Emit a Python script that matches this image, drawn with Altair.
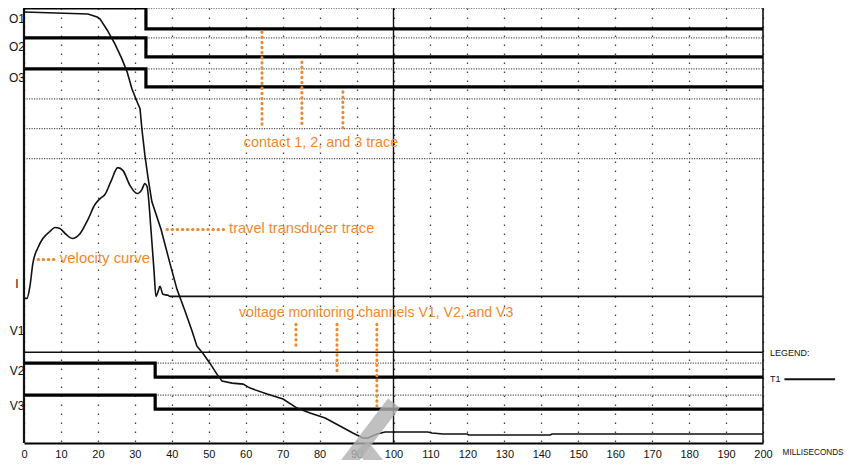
import altair as alt
import pandas as pd

# x: milliseconds ; y: trace level (0 = bottom edge of the record, 436 = top edge)
X_MIN, X_MAX = 0, 200
Y_MIN, Y_MAX = 0, 436

# ---- channel labels at the left edge
channel_labels = ["O1", "O2", "O3", "I", "V1", "V2", "V3"]
channel_label_y = [425, 397, 366, 159, 112, 72, 37]

# ---- contact traces (step down when the contacts part)
contact_names = ["O1", "O2", "O3"]
contact_high = [436, 406, 375]
contact_low = [415, 387, 357]
contact_switch_ms = [33.0, 33.0, 33.0]

# ---- voltage monitoring channels
voltage_names = ["V2", "V3"]
voltage_high = [80, 48]
voltage_low = [66, 34]
voltage_switch_ms = [35.5, 35.5]
v1_level = 91

# ---- dotted reference levels: start ms, level
dotted_start = [33.0, 33.0, 33.0, 0, 0, 0, 35.5, 35.5]
dotted_level = [436, 406, 375, 345, 315, 285, 80, 48]

# ---- travel transducer trace
travel_ms = [0, 17.3, 19.8, 20.6, 22.5, 24.6, 26.5, 27.9, 29.2, 30.6, 31.4, 31.9,
             32.7, 33.6, 34.6, 37.1, 39.5, 41.4, 43.6, 45.5, 46.8, 48.4, 50.3,
             52.2, 53.6, 56.3, 59.3, 61.2, 65.8, 70.1, 73.9, 77.4, 81.5, 85.5,
             89.0, 91.7, 93.1, 95.5, 97.7, 109.3, 110.4, 113.4, 119.9, 120.4,
             142.4, 142.9, 200]
travel_val = [432, 430, 427, 425, 414, 400, 385, 372, 355, 342, 335, 315,
              289, 265, 242, 214, 180, 154, 132, 112, 97, 90, 80,
              69, 62, 60, 59, 55, 49, 44, 35, 30, 25, 17,
              10, 5, 5, 9, 11, 11, 10, 9, 9, 8,
              8, 9, 9]

# ---- velocity curve (continues as the I trace)
velocity_ms = [0, 0.8, 1.6, 2.4, 3.8, 5.1, 7.0, 8.4, 9.7, 11.4, 13.0, 15.2, 17.3,
               19.2, 20.6, 21.9, 23.5, 25.4, 26.8, 28.7, 30.6, 31.9, 32.7, 33.3,
               34.4, 35.2, 35.7, 36.3, 36.8, 37.6, 39.0, 39.5, 200]
velocity_val = [145, 145, 157, 180, 196, 205, 212, 216, 215, 209, 205, 210, 224,
                239, 245, 249, 262, 276, 273, 258, 250, 254, 260, 257,
                212, 172, 147, 152, 157, 149, 148, 147, 147]

# ---- annotations (orange)
note_text = ["contact 1, 2, and 3 trace", "travel transducer trace",
             "velocity curve", "voltage monitoring channels V1, V2, and V3"]
note_x = [59.5, 55.5, 9.7, 58.2]
note_y = [301, 214, 184, 130]
note_size = [14.4, 14.6, 14.9, 14.1]

# orange dotted leaders: x1, y1, x2, y2
lead_x1 = [64.4, 75.2, 86.3, 38.7, 3.8, 73.6, 84.7, 95.5]
lead_y1 = [412, 382, 352, 214, 184, 119, 119, 119]
lead_x2 = [64.4, 75.2, 86.3, 54.4, 9.2, 73.6, 84.7, 95.5]
lead_y2 = [316, 316, 316, 214, 184, 96, 70, 37]

# ---- watermark bands (scanned background)
wm_x1 = [100.1, 91.5]
wm_y1 = [40, -3]
wm_x2 = [86.1, 96.9]
wm_y2 = [-28, -28]

# ---- axis ticks
x_ticks = list(range(0, 201, 10))

FONT = "Liberation Sans Narrow, Liberation Sans, Arial, sans-serif"
ORANGE = "#F0892E"

xs = alt.Scale(domain=[X_MIN, X_MAX], nice=False, zero=False)
ys = alt.Scale(domain=[Y_MIN, Y_MAX], nice=False, zero=False)

XAXIS = alt.Axis(values=x_ticks, title=None, grid=True, gridDash=[1.5, 7.5],
                 gridColor="#444", gridWidth=1.3, tickSize=0, labelPadding=5,
                 labelFont=FONT, labelFontSize=11, labelColor="#111",
                 domain=True, domainColor="#000", domainWidth=2, labelFlush=False)


def X(f):
    return alt.X(f, type="quantitative", scale=xs, axis=XAXIS)


def Y(f):
    return alt.Y(f, type="quantitative", scale=ys, axis=None)


# step traces as ordered paths
rows = []
for n, hi, lo, t in zip(contact_names, contact_high, contact_low, contact_switch_ms):
    rows += [dict(ch=n, i=0, x=X_MIN, y=hi), dict(ch=n, i=1, x=t, y=hi),
             dict(ch=n, i=2, x=t, y=lo), dict(ch=n, i=3, x=X_MAX, y=lo)]
for n, hi, lo, t in zip(voltage_names, voltage_high, voltage_low, voltage_switch_ms):
    rows += [dict(ch=n, i=0, x=X_MIN, y=hi), dict(ch=n, i=1, x=t, y=hi),
             dict(ch=n, i=2, x=t, y=lo), dict(ch=n, i=3, x=X_MAX, y=lo)]
steps_df = pd.DataFrame(rows)

dotted_df = pd.DataFrame({"x": dotted_start, "x2": [X_MAX] * len(dotted_start), "y": dotted_level})
travel_df = pd.DataFrame({"x": travel_ms, "y": travel_val, "i": range(len(travel_ms))})
vel_df = pd.DataFrame({"x": velocity_ms, "y": velocity_val, "i": range(len(velocity_ms))})
labels_df = pd.DataFrame({"t": channel_labels, "y": channel_label_y, "x": [-1.9] * len(channel_labels)})
notes_df = pd.DataFrame({"t": note_text, "x": note_x, "y": note_y, "s": note_size})
lead_df = pd.DataFrame({"x": lead_x1, "y": lead_y1, "x2": lead_x2, "y2": lead_y2})
wm_df = pd.DataFrame({"x": wm_x1, "y": wm_y1, "x2": wm_x2, "y2": wm_y2})

dotted = alt.Chart(dotted_df).mark_rule(color="#555", strokeDash=[1.2, 1.3], strokeWidth=1.3).encode(
    x=X("x"), x2="x2", y=Y("y"))

borders_df = pd.DataFrame({"x": [X_MIN, X_MAX, 100], "y": [Y_MIN] * 3, "y2": [Y_MAX] * 3,
                           "w": [2.2, 1.6, 1.4]})
borders = alt.Chart(borders_df).mark_rule(color="#111").encode(
    x=X("x"), y=Y("y"), y2="y2", strokeWidth=alt.StrokeWidth("w:Q", scale=None, legend=None))

v1 = alt.Chart(pd.DataFrame({"x": [X_MIN], "x2": [X_MAX], "y": [v1_level]})).mark_rule(
    color="#111", strokeWidth=1.6).encode(x=X("x"), x2="x2", y=Y("y"))

steps = alt.Chart(steps_df).mark_line(color="#000", strokeWidth=3.2, strokeJoin="miter").encode(
    x=X("x"), y=Y("y"), detail="ch:N", order="i:Q")

travel = alt.Chart(travel_df).mark_line(color="#111", strokeWidth=1.6).encode(
    x=X("x"), y=Y("y"), order="i:Q")

velocity = alt.Chart(vel_df).mark_line(color="#111", strokeWidth=1.6, interpolate="monotone").encode(
    x=X("x"), y=Y("y"), order="i:Q")

labels = alt.Chart(labels_df).mark_text(font=FONT, fontSize=12, color="#111", align="center",
                                        baseline="middle").encode(x=X("x"), y=Y("y"), text="t:N")

leaders = alt.Chart(lead_df).mark_rule(color=ORANGE, strokeWidth=3, strokeCap="round",
                                       strokeDash=[0.5, 4.6]).encode(
    x=X("x"), y=Y("y"), x2="x2", y2="y2")

notes = alt.Chart(notes_df).mark_text(font=FONT, color=ORANGE, align="left",
                                      baseline="middle").encode(
    x=X("x"), y=Y("y"), text="t:N", size=alt.Size("s:Q", scale=None, legend=None))

legend_df = pd.DataFrame({"t": ["LEGEND:", "T1", "MILLISECONDS"],
                          "x": [201.9, 201.9, 205.3], "y": [90, 64, -10],
                          "s": [9, 9, 8.2]})
legend_txt = alt.Chart(legend_df).mark_text(font=FONT, color="#111", align="left",
                                            baseline="middle").encode(
    x=X("x"), y=Y("y"), text="t:N", size=alt.Size("s:Q", scale=None, legend=None))
legend_line = alt.Chart(pd.DataFrame({"x": [205.8], "x2": [219.5], "y": [64]})).mark_rule(
    color="#111", strokeWidth=2).encode(x=X("x"), x2="x2", y=Y("y"))

watermark = alt.Chart(wm_df).mark_rule(color="#b0b0b0", strokeWidth=15, opacity=0.8).encode(
    x=X("x"), y=Y("y"), x2="x2", y2="y2")

chart = alt.layer(
    dotted, borders, v1, steps, travel, velocity, labels, leaders, notes,
    legend_txt, legend_line, watermark
).properties(
    width=739, height=435,
    autosize=alt.AutoSizeParams(type="none"),
    padding={"left": 16, "top": 0, "right": 82, "bottom": 17},
    background="white",
).configure_view(strokeWidth=0)

chart.save("out.html", embed_options={"renderer": "svg", "actions": False})
